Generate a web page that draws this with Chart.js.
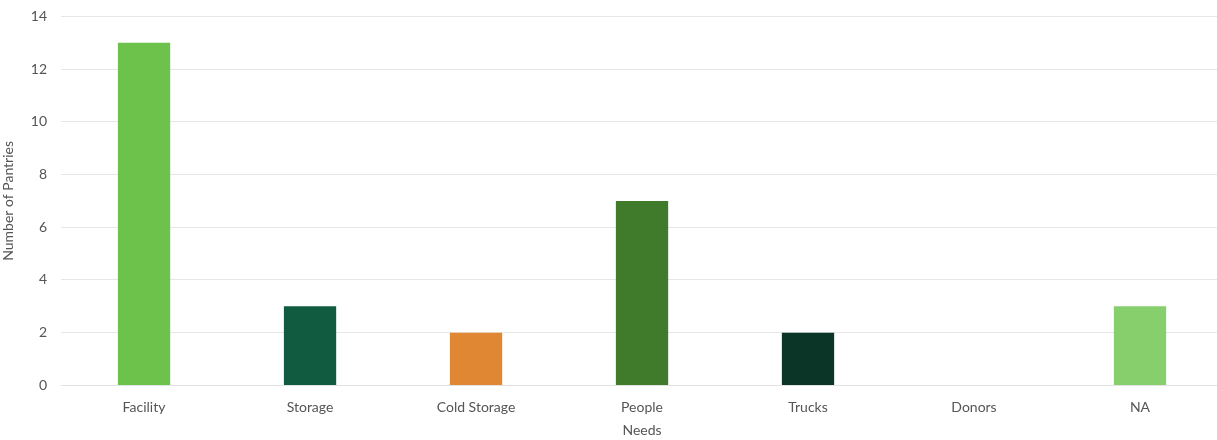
<!DOCTYPE html>
<html>
<head>
<meta charset="utf-8">
<script src="https://cdn.jsdelivr.net/npm/chart.js@4"></script>
<style>
  html, body { margin: 0; padding: 0; background: #fff; overflow: hidden; }
  #wrap { width: 1223px; height: 446px; margin-top: -6px; }
</style>
</head>
<body>
<div id="wrap"><canvas id="myChart"></canvas></div>
<script>
var categories = ["Facility", "Storage", "Cold Storage", "People", "Trucks", "Donors", "NA"];
var pantryCounts = [13, 3, 2, 7, 2, 0, 3];
var barColors = ["#6cc24a", "#115c41", "#df8733", "#3f7b2a", "#0b3526", "#6cc24a", "#86cf6c"];
var yTicks = [0, 2, 4, 6, 8, 10, 12, 14];

Chart.defaults.font.family = "Lato, 'Open Sans', sans-serif";
Chart.defaults.color = "#555";

new Chart("myChart", {
    type: "bar",
    data: {
        labels: categories,
        datasets: [{
            data: pantryCounts,
            backgroundColor: barColors,
            barPercentage: 0.315,
            categoryPercentage: 1
        }]
    },
    options: {
        responsive: true,
        maintainAspectRatio: false,
        animation: false,
        layout: { padding: { top: 0, right: 0, left: 0, bottom: 1 } },
        plugins: {
            legend: { display: false },
            tooltip: { enabled: false }
        },
        scales: {
            x: {
                grid: { display: false },
                border: { color: "#e2e2e2" },
                ticks: { font: { size: 14 }, padding: 6 },
                title: { display: true, text: "Needs", font: { size: 14 }, padding: { top: 0, bottom: 0 } }
            },
            y: {
                min: 0,
                max: 14,
                afterBuildTicks: function (axis) {
                    axis.ticks = yTicks.map(function (v) { return { value: v }; });
                },
                grid: { color: "#e6e6e6", drawTicks: false },
                border: { display: false },
                ticks: { font: { size: 14 }, padding: 14 },
                title: { display: true, text: "Number of Pantries", font: { size: 14 }, padding: { top: 0, bottom: 0 } }
            }
        }
    }
});
</script>
</body>
</html>
